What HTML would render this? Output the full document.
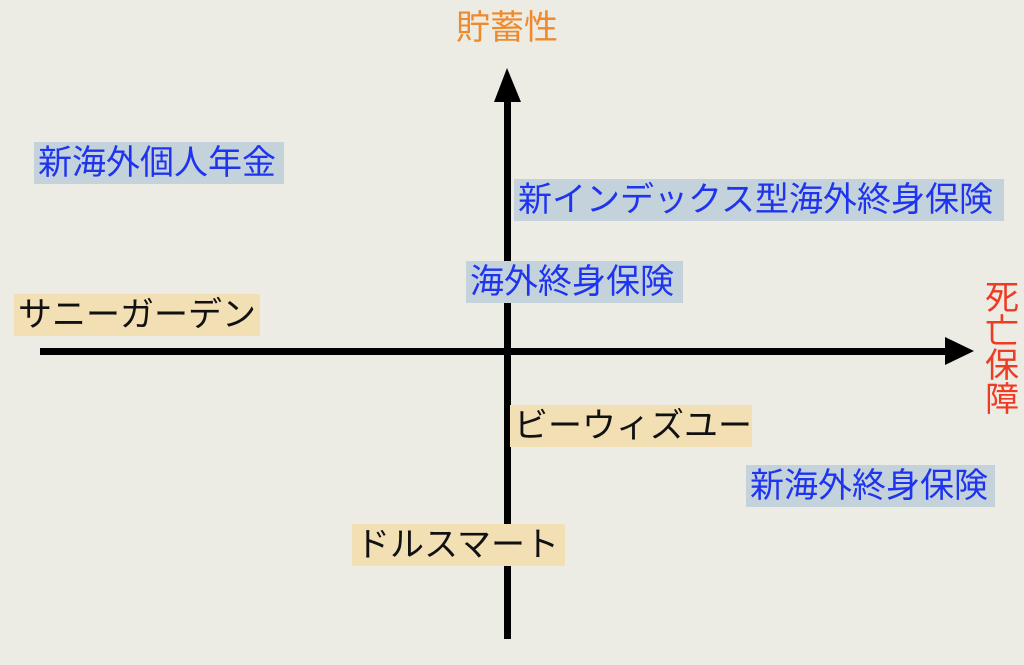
<!DOCTYPE html>
<html><head><meta charset="utf-8"><style>
html,body{margin:0;padding:0}
body{width:1024px;height:665px;position:relative;overflow:hidden;background:#ecebe4;font-family:"Liberation Sans","Noto Sans CJK JP",sans-serif}
.b{position:absolute;height:42px;line-height:42px;font-size:34px;padding:0 4px;box-sizing:border-box;white-space:nowrap;text-align:left;font-weight:400;overflow:hidden}
.bl{background:#c4d2dc;color:#1e34ee}
.y{background:#f2dfb3;color:#111}
</style></head><body>
<svg width="1024" height="665" style="position:absolute;left:0;top:0">
<rect x="504" y="100" width="7" height="539" fill="#000"/>
<polygon points="507,68 494,102 521,102" fill="#000"/>
<rect x="40" y="348" width="910" height="7" fill="#000"/>
<polygon points="974,351 945,337 945,365" fill="#000"/>
</svg>
<div style="position:absolute;left:456px;top:8px;font-size:34px;color:#ef8a2c;line-height:40px">貯蓄性</div>
<div style="position:absolute;left:984px;top:281px;width:36px;font-size:34px;color:#ee3b24;line-height:34px;text-align:center">死<br>亡<br>保<br>障</div>
<div class="b bl" style="left:34px;top:142px;width:250px">新海外個人年金</div>
<div class="b bl" style="left:514px;top:179px;width:490px">新インデックス型海外終身保険</div>
<div class="b bl" style="left:466px;top:261px;width:217px">海外終身保険</div>
<div class="b y" style="left:14px;top:294px;width:246px">サニーガーデン</div>
<div class="b y" style="left:510px;top:405px;width:242px">ビーウィズユー</div>
<div class="b bl" style="left:746px;top:465px;width:249px">新海外終身保険</div>
<div class="b y" style="left:352px;top:524px;width:213px">ドルスマート</div>
</body></html>
